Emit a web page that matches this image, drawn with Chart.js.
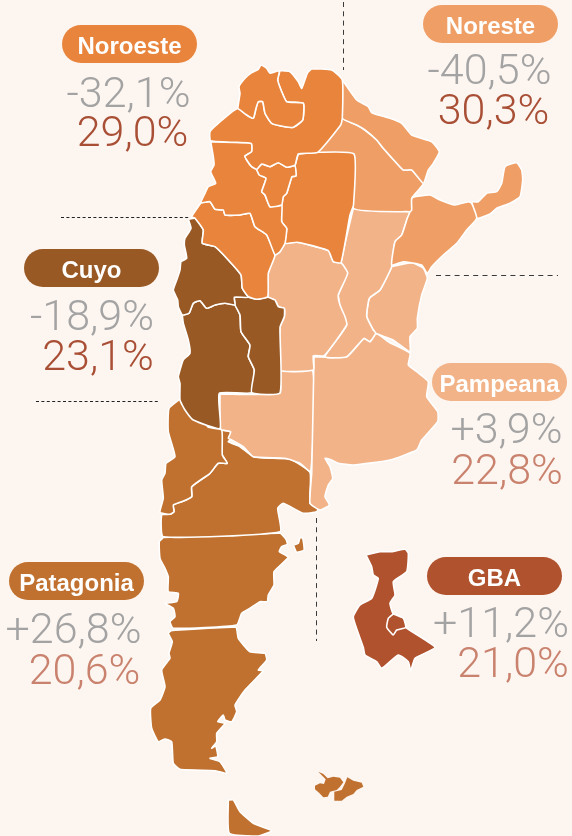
<!DOCTYPE html>
<html>
<head>
<meta charset="utf-8">
<title>Regiones</title>
<script src="https://cdn.jsdelivr.net/npm/chart.js@4/dist/chart.umd.min.js"></script>
<style>
  html, body { margin: 0; padding: 0; background: #fdf5f0; }
  #wrap { position: relative; width: 572px; height: 836px; overflow: hidden; }
  canvas { position: absolute; left: 0; top: 0; }
  .pill { position: absolute; width: 135px; height: 38px; border-radius: 19px; color: #fff; text-align: center;
          font: bold 24px/42px "Liberation Sans", sans-serif; }
  .num { position: absolute; width: 160px; text-align: center; white-space: nowrap;
         font: 300 43px/43px Roboto, sans-serif; }
</style>
</head>
<body>
<div id="wrap"><canvas id="mapa" width="572" height="836"></canvas></div>
<script>
// etiquetas y valores
const regiones = ["Noroeste", "Noreste", "Cuyo", "Pampeana", "Patagonia", "GBA"];
const variacion = ["-32,1%", "-40,5%", "-18,9%", "+3,9%", "+26,8%", "+11,2%"];
const participacion = ["29,0%", "30,3%", "23,1%", "22,8%", "20,6%", "21,0%"];

// contornos del mapa (unidades del mapa = eje x 0-572, eje y 0-836)
const jujuy = [[237.7,108.3],[240,93.3],[239,86.7],[245,78.3],[251.7,72.7],[258.3,69.3],[261,65],[266.7,68.3],[270,73.3],[279.3,70.7],[277.7,80],[281.7,91.7],[286.7,101.7],[303.3,103.3],[302.7,120],[293.3,127.3],[285,126.7],[271.7,123.3],[265,113.3],[262.7,101.7],[258.3,101.7],[256,108.3],[253.3,118.3],[246.7,115]];
const salta = [[280,70.7],[290,71.7],[298.3,81.7],[301.7,88.3],[307.3,73.3],[311.7,69],[331.7,70],[342.3,80],[342.3,118.3],[340.7,125],[317.7,152.3],[298.3,154],[295,165],[286.7,167.3],[278.3,162.7],[270,166.7],[261.7,164],[256.7,169.3],[251.7,166.7],[246.7,160],[245,156],[251.7,151.7],[251.7,144],[247.3,142.7],[210.7,140.7],[210,131.7],[218.3,123.3],[237.7,108.3],[246.7,115],[253.3,118.3],[256,108.3],[258.3,101.7],[262.7,101.7],[265,113.3],[271.7,123.3],[285,126.7],[293.3,127.3],[302.7,120],[303.3,103.3],[286.7,101.7],[281.7,91.7],[277.7,80]];
const tucuman = [[261.7,164],[270,166.7],[278.3,162.7],[286.7,167.3],[295,166],[296,176],[292,176.7],[286.7,193.3],[283.3,196.7],[281.7,205],[270,206.7],[265,195],[261.7,191.7],[266,178.3],[259.3,175],[256.7,169.3]];
const catamarca = [[210.7,141.7],[247.3,142.7],[251.7,144],[251.7,151.7],[245,156],[246.7,160],[251.7,166.7],[256.7,169.3],[259.3,175],[266,178.3],[261.7,191.7],[265,195],[270,206.7],[281.7,205],[281.7,221.7],[286.7,228.3],[285,243.3],[280,251.7],[275,255],[266.7,235],[255,226.7],[250,213.3],[240,215],[225,215],[223.3,210],[215,209.3],[210,201.7],[201,202.7],[205,193.3],[208.3,186.7],[215.7,183.3],[210.7,171.7],[214,165],[213.3,156.7]];
const santiago = [[298.3,154],[317.7,152.3],[354,154],[353.5,205],[350,215],[341,262.7],[333.3,261.7],[328.3,250.7],[306.7,244.3],[296.7,242.3],[285,243.3],[286.7,228.3],[281.7,221.7],[281.7,205],[283.3,196.7],[286.7,193.3],[292,176.7],[296,176],[295,166]];
const laRioja = [[201,202.7],[191.7,216.7],[195,218.3],[203.3,230],[202.3,243.3],[215,246.7],[228.3,260],[241,275],[242.3,288.3],[248.3,296.7],[256.7,299.3],[267.7,296.7],[268.3,273.3],[275,255],[266.7,235],[255,226.7],[250,213.3],[240,215],[225,215],[223.3,210],[215,209.3],[210,201.7]];
const sanJuan = [[188.3,219.3],[195,218.3],[203.3,230],[202.3,243.3],[215,246.7],[228.3,260],[241,275],[242.3,288.3],[248.3,297.3],[234.3,297.3],[235,305],[225,303.3],[215,305],[206.7,308.3],[200,300.7],[193.3,303.3],[189,313.3],[182.3,315],[178.3,306.7],[177.7,300],[173.3,290],[176.7,280],[180,270],[181,261.7],[186.7,258.3],[184.3,245],[185,238.3],[191,228.3]];
const sanLuis = [[234.3,297.3],[248.3,297.3],[256.7,299.3],[267.7,297.3],[275,300],[278.3,306.7],[284.3,308.3],[284.3,316.7],[280,327.3],[280,392.7],[251.7,392.7],[254.3,370],[248.3,356.7],[250,345],[241,331.7],[240,315],[235,305]];
const mendoza = [[182.3,315],[189,313.3],[193.3,303.3],[200,300.7],[206.7,308.3],[215,305],[225,303.3],[235,305],[240,315],[241,331.7],[250,345],[248.3,356.7],[254.3,370],[251.7,392.7],[219.3,393.3],[220,428.3],[193.3,420],[185,410],[180,400],[180,383.3],[178.3,376.7],[183.3,360],[190,353.3],[188.3,340],[183.3,323.3]];
const cordoba = [[275,255],[280,251.7],[285,243.3],[296.7,242.3],[306.7,244.3],[328.3,250.7],[333.3,261.7],[341,262.7],[347.7,273.3],[338.3,295],[340,305],[345,316.7],[346.7,325],[324.3,355.7],[313.3,355.7],[313.3,370],[280,370],[280,327.3],[284.3,316.7],[284.3,308.3],[278.3,306.7],[275,300],[268,297.3],[268.3,273.3]];
const santaFe = [[353.3,208.3],[410,211.7],[407.3,218.3],[401.7,235],[395,241.7],[391.7,266.7],[380,290],[369.3,298.3],[366.7,316.7],[373.3,330],[375.7,333.3],[370,341.7],[364,338.3],[346.7,356.7],[325,356.7],[346.7,325],[340,306.7],[338.3,295],[346.7,273.3],[341,263.3]];
const entreRios = [[391.7,266.7],[411.7,262.7],[423.3,268.3],[427.3,278.3],[421.7,295],[417.3,318.3],[417.3,328.3],[410,336.7],[410,351.7],[393,340],[375.7,333.3],[373.3,330],[366.7,316.7],[369.3,298.3],[380,290]];
const buenosAires = [[314,356.7],[346.7,356.7],[364,338.3],[370,341.7],[375.7,333.3],[390,342.7],[410,353.3],[408.3,365],[416.7,371.7],[428.3,381.7],[426.7,396.7],[437.7,411.7],[437.7,421.7],[421.7,440],[416.7,450],[390,460],[353.3,465],[338.3,463.3],[331.7,460],[325,458.3],[330,466.7],[332.7,478.3],[328.3,485],[325,496.7],[329.3,505],[320,510],[310,503.3],[311.7,473.3]];
const laPampa = [[220,394],[280,393.3],[280.7,370],[312.7,370.7],[310.7,471.7],[300,463.3],[285,458.3],[253.3,456.7],[243.3,446.7],[231.7,440],[228.3,438.3],[230.7,431.7],[220.7,429.3]];
const neuquen = [[180,399],[193.3,416.7],[205,423.3],[208.3,427.3],[221.7,430],[222.3,455],[227.3,463.3],[218.3,463.3],[210,473.3],[191.7,486.7],[191.7,496.7],[181.7,501.7],[173.3,505],[174,511.7],[170,514.3],[160,512.3],[163.3,498.3],[161.7,480],[165,473.3],[166,463.3],[175,456.7],[168.3,431.7],[169,408.3]];
const rioNegro = [[221.7,430],[230,431.7],[231.7,438.3],[228.3,441.7],[240,446.7],[253.3,456.7],[273.3,458.3],[290,459],[310,472.3],[310,503.3],[318.3,506.7],[316.7,511.7],[303.3,513.3],[283.3,503.3],[277.7,508.3],[280,531.7],[163.3,536.7],[161.7,515],[170,514.3],[174,511.7],[173.3,505],[181.7,501.7],[191.7,496.7],[191.7,486.7],[210,473.3],[218.3,463.3],[227.3,463.3],[222.3,455]];
const chubut = [[163.3,537.5],[159.3,541.7],[160,558.3],[165,568.3],[168.3,576.7],[168.3,591.7],[178.3,593.3],[176.7,601.7],[165,603.3],[173.3,608.3],[175,616.7],[170,621.7],[173.3,628.3],[236.7,625],[241.7,613.3],[250,608.3],[260,601.7],[267.3,601.7],[268.3,595],[274,585],[274,571.7],[288.3,557.3],[279.3,551.7],[281.7,546.7],[287.3,544.3],[286,539.3],[280,533.3]];
const valdes = [[293.3,545],[298.3,543.3],[300,537.7],[302.7,538.3],[304,550],[296.7,552.3]];
const santaCruz = [[171,630.7],[235.7,627.3],[238.3,638.3],[250,651.7],[265,653.3],[266.7,660],[258.3,670],[263.3,670.7],[245,690],[235,705],[236.7,711.7],[231.7,721.7],[225,720],[223.3,715],[217.7,721.7],[225,723.3],[216.7,733.3],[216.7,741.7],[211.7,748.3],[215.7,746],[217.7,756.7],[210,758.3],[220,761.7],[226.7,773.3],[215,770.7],[180,769.3],[173.3,763.3],[171.7,741.7],[165,739],[158.3,741.7],[151.7,728.3],[150.7,708.3],[160,700],[165,686.7],[161.7,670],[170,658.3],[169,653.3],[172.3,641.7],[168.3,633.3]];
const tierraFuego = [[228.3,800],[233.3,800],[240,811.7],[253.3,823.3],[271.7,830.7],[258.3,836],[229.3,833.3]];
const malvinasO = [[315,785.7],[320,783.3],[324,784],[325.7,779.3],[318.3,771.7],[323.3,774],[327.7,778.3],[333.3,776.7],[340,777.7],[343.3,782.3],[340,786.7],[336.7,790],[330,791.7],[327.7,796.7],[323.3,797.3],[319,792.7],[315,789.3]];
const malvinasE = [[334.3,791.7],[341.7,790],[345,783.3],[347.3,777.3],[353.3,780.7],[361.7,782.7],[363.3,786.7],[356.7,790],[353.3,794],[346.7,796.7],[341.7,800.7],[334.3,800.7]];
const formosa = [[342.3,80],[356.7,100],[368.3,106.7],[371.7,112.7],[390,118.3],[401.7,123.3],[411.7,135],[431.7,141.7],[439.3,151.7],[433.3,163.3],[428.3,170],[423.3,183.3],[411.7,170],[403.3,170],[398.3,165],[383.3,148.3],[376.7,140],[365,130],[356.7,125],[342.3,118.3]];
const chaco = [[342.3,118.3],[356.7,125],[365,130],[376.7,140],[383.3,148.3],[398.3,165],[403.3,170],[411.7,170],[423.3,183.3],[420,188.3],[411.7,198.3],[411.7,210],[410,211.7],[353.3,208.3],[354,154.3],[317.7,152.7]];
const corrientes = [[415,196.7],[430,195],[440,200],[455,205],[468.3,201.7],[471.7,203.3],[476.7,218.3],[466.7,230],[456.7,243.3],[443.3,255],[431.7,266.7],[427.3,273.3],[421.7,265],[403.3,261.7],[391.7,265],[395,241.7],[401.7,235],[407.3,218.3],[410,211.7],[411.7,198.3]];
const misiones = [[471.7,201.7],[478.3,201.7],[486.7,193.3],[496.7,191.7],[501.7,183.3],[505,166.7],[516.7,162.7],[521.7,170],[522.7,180],[520,196.7],[510,203.3],[496.7,208.3],[490,214],[476.7,218.3]];
const gba = [[366,555],[380,551.7],[391.7,551.7],[405,549.3],[408.3,553.3],[406.7,571.7],[393.3,581.7],[395,595],[390,603.3],[393.3,614],[403.3,618.3],[405.7,627.3],[435,647.3],[415,658.3],[410.7,670.7],[408.3,661.7],[398.3,655],[381.7,668.3],[376.7,661.7],[365,655],[363.3,647.3],[353.3,617.3],[360,605],[371.7,598.3],[378.3,578.3],[373.3,575],[371.7,566.7]];
const caba = [[393.3,614],[403.3,618.3],[405.7,627.3],[396.7,630],[393.3,635],[386.7,627.3],[388.3,618.3]];

// lineas punteadas que separan las regiones
const divisorias = [
  [[343.5,2],[343.5,70]],
  [[436,275.5],[558,275.5]],
  [[316.5,518],[316.5,641]]
];
const divisoriasFinas = [
  [[61,217.5],[190,217.5]],
  [[36,401.5],[158,401.5]]
];

// el primer dataset queda arriba
const provincias = [
  [caba, 5], [gba, 5],
  [jujuy, 0], [salta, 0], [tucuman, 0], [catamarca, 0], [santiago, 0], [laRioja, 0],
  [formosa, 1], [chaco, 1], [corrientes, 1], [misiones, 1],
  [sanJuan, 2], [sanLuis, 2], [mendoza, 2],
  [cordoba, 3], [santaFe, 3], [entreRios, 3], [buenosAires, 3], [laPampa, 3],
  [neuquen, 4], [rioNegro, 4], [chubut, 4], [valdes, 4], [santaCruz, 4], [tierraFuego, 4]
];
const islas = [malvinasO, malvinasE];

const colores = ["#e9843c", "#ef9f66", "#985925", "#f2b388", "#c0712f", "#b0522d"];
const pts = arr => arr.map(p => ({ x: p[0], y: p[1] }));

const datasets = [];
provincias.forEach(([contorno, r]) => {
  datasets.push({
    data: pts(contorno.concat([contorno[0]])),
    showLine: true,
    fill: 'shape',
    backgroundColor: colores[r],
    borderColor: '#ffffff',
    borderWidth: 1.6,
    borderJoinStyle: 'round',
    pointRadius: 0,
    tension: 0.15
  });
});
islas.forEach(contorno => {
  datasets.push({
    data: pts(contorno.concat([contorno[0]])),
    showLine: true,
    fill: 'shape',
    backgroundColor: colores[4],
    borderWidth: 0,
    pointRadius: 0
  });
});
divisorias.forEach(l => {
  datasets.push({ data: pts(l), showLine: true, fill: false, borderColor: '#3a3a3a', borderWidth: 1, borderDash: [5, 4.3], pointRadius: 0 });
});
divisoriasFinas.forEach(l => {
  datasets.push({ data: pts(l), showLine: true, fill: false, borderColor: '#222222', borderWidth: 1, borderDash: [3, 2.4], pointRadius: 0 });
});

new Chart(document.getElementById('mapa'), {
  type: 'scatter',
  data: { datasets },
  options: {
    responsive: false,
    animation: false,
    events: [],
    layout: { padding: 0 },
    plugins: { legend: { display: false }, tooltip: { enabled: false } },
    scales: {
      x: { type: 'linear', display: false, min: 0, max: 572 },
      y: { type: 'linear', display: false, min: 0, max: 836, reverse: true }
    }
  }
});

// rotulos: pastilla (izq, arriba), variacion (centro, base), participacion (centro, base), color
const rotulos = [
  [62, 25, 128.5, 107, 132.5, 146, "#a84f35"],
  [423, 5, 489.5, 84, 493.5, 124, "#a84f35"],
  [24, 249, 92, 330, 98, 370, "#a84f35"],
  [432, 363, 506.5, 443, 507, 484, "#c9826d"],
  [9, 562, 73.5, 643, 84.5, 684, "#c9826d"],
  [427, 557, 501, 637, 513, 677, "#c9826d"]
];
const wrap = document.getElementById('wrap');
function texto(cls, str, css) {
  const d = document.createElement('div');
  d.className = cls;
  d.textContent = str;
  Object.assign(d.style, css);
  wrap.appendChild(d);
}
regiones.forEach((nombre, i) => {
  const [px, py, c1, b1, c2, b2, col] = rotulos[i];
  texto('pill', nombre, { left: px + 'px', top: py + 'px', background: colores[i] });
  texto('num', variacion[i], { left: (c1 - 80) + 'px', top: (b1 - 36) + 'px', color: '#a3a3a3' });
  texto('num', participacion[i], { left: (c2 - 80) + 'px', top: (b2 - 36) + 'px', color: col });
});
</script>
</body>
</html>
